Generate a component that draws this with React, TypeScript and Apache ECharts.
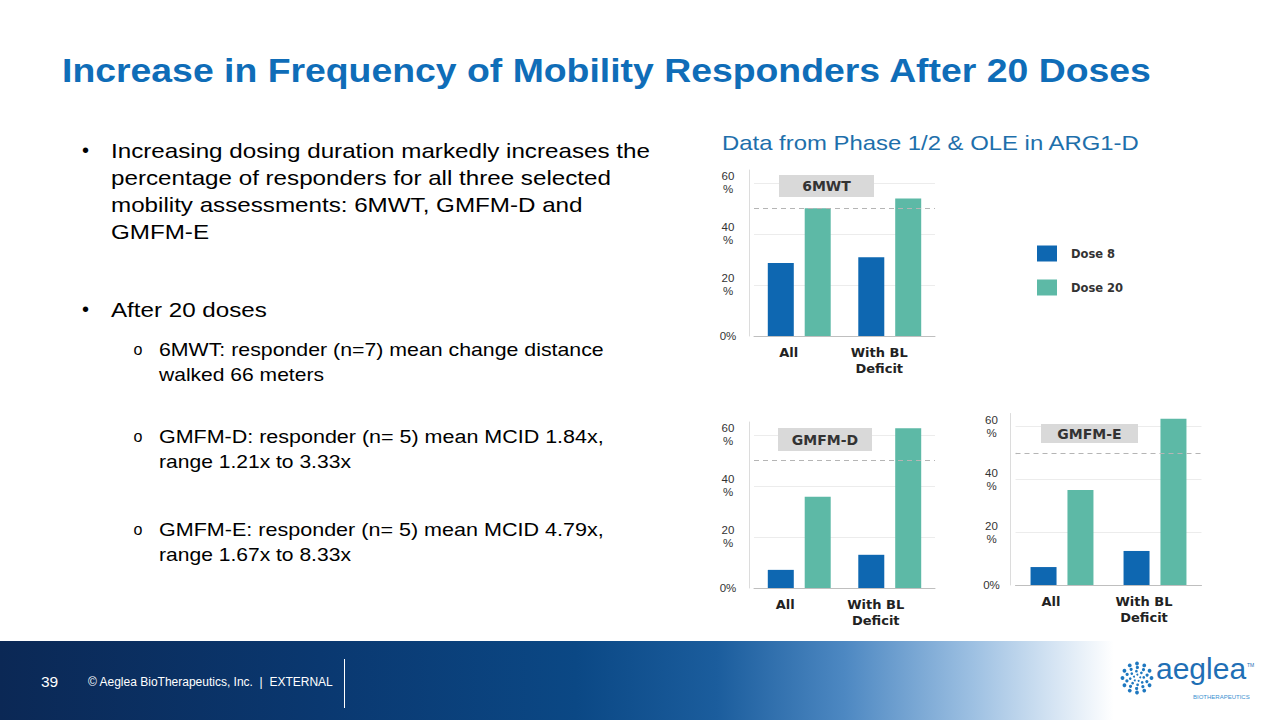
import React, { useEffect, useRef } from 'react';
import * as echarts from 'echarts';

// ---------- data ----------
const categories = ['All', 'With BL\nDeficit'];
const seriesNames = ['Dose 8', 'Dose 20'];
const panelTitles = ['6MWT', 'GMFM-D', 'GMFM-E'];
const dose8_6mwt = [28.6, 30.8];
const dose20_6mwt = [50, 53.8];
const dose8_gmfmD = [7.1, 13];
const dose20_gmfmD = [35.7, 62.6];
const dose8_gmfmE = [6.8, 12.9];
const dose20_gmfmE = [36, 63];
const thresholdLine = 50;
const yMax = 65;
const yInterval = 20;

const titleText = 'Increase in Frequency of Mobility Responders After 20 Doses';
const subtitleText = 'Data from Phase 1/2 & OLE in ARG1-D';
const bulletLines1 = [
  'Increasing dosing duration markedly increases the',
  'percentage of responders for all three selected',
  'mobility assessments: 6MWT, GMFM-D and',
  'GMFM-E',
];
const bulletLine2 = 'After 20 doses';
const subBullets = [
  ['6MWT: responder (n=7) mean change distance', 'walked 66 meters'],
  ['GMFM-D: responder (n= 5) mean MCID 1.84x,', 'range 1.21x to 3.33x'],
  ['GMFM-E: responder (n= 5) mean MCID 4.79x,', 'range 1.67x to 8.33x'],
];
const footerPage = '39';
const footerText = '\u00A9 Aeglea BioTherapeutics, Inc.  |  EXTERNAL';

// ---------- styling ----------
const BLUE = '#0e67b1';
const TEAL = '#5db9a6';
const SANS = '"Liberation Sans", Arial, sans-serif';
const LBL = '"DejaVu Sans", sans-serif';

const panels = [
  { d8: dose8_6mwt, d20: dose20_6mwt, grid: { left: 754, top: 170, width: 181, height: 166 }, pad: 21, ym: 21, box: [779, 175, 95, 22] },
  { d8: dose8_gmfmD, d20: dose20_gmfmD, grid: { left: 754, top: 422, width: 181, height: 166 }, pad: 28, ym: 21, box: [778, 428, 94, 23] },
  { d8: dose8_gmfmE, d20: dose20_gmfmE, grid: { left: 1015.5, top: 413.5, width: 186, height: 171.5 }, pad: 22, ym: 19, box: [1041, 424, 97, 19] },
];

let measureCtx: CanvasRenderingContext2D | null = null;
function measure(text: string, font: string): number {
  if (!measureCtx) measureCtx = document.createElement('canvas').getContext('2d');
  if (!measureCtx) return 0;
  measureCtx.font = font;
  return measureCtx.measureText(text).width;
}

function buildOption(): any {
  const grids = panels.map((p) => ({ ...p.grid }));
  const xAxes = panels.map((p, i) => ({
    type: 'category',
    gridIndex: i,
    data: categories,
    axisLine: { show: true, lineStyle: { color: '#bfbfbf', width: 1 } },
    axisTick: { show: false },
    axisLabel: {
      fontFamily: LBL,
      fontWeight: 'bold',
      fontSize: 13,
      color: '#222',
      lineHeight: 16,
      margin: 8,
      padding: [0, p.pad, 0, 0],
    },
  }));
  const yAxes = panels.map((p, i) => ({
    type: 'value',
    gridIndex: i,
    min: 0,
    max: yMax,
    interval: yInterval,
    offset: 5,
    axisLine: { show: true, lineStyle: { color: '#dcdcdc', width: 1 } },
    axisTick: { show: false },
    splitLine: { show: true, showMaxLine: false, lineStyle: { color: '#ececec', width: 1 } },
    axisLabel: {
      showMaxLabel: false,
      fontFamily: SANS,
      fontSize: 11.5,
      lineHeight: 13,
      color: '#333',
      align: 'center',
      margin: p.ym,
      formatter: (v: number) => (v === 0 ? '0%' : v % yInterval === 0 ? v + '\n%' : ''),
    },
  }));
  const series: any[] = [];
  panels.forEach((p, i) => {
    series.push({
      type: 'bar',
      name: seriesNames[0],
      xAxisIndex: i,
      yAxisIndex: i,
      data: p.d8,
      barWidth: 26,
      barGap: '42%',
      itemStyle: { color: BLUE },
    });
    series.push({
      type: 'bar',
      name: seriesNames[1],
      xAxisIndex: i,
      yAxisIndex: i,
      data: p.d20,
      barWidth: 26,
      barGap: '42%',
      itemStyle: { color: TEAL },
      markLine: {
        silent: true,
        symbol: 'none',
        label: { show: false },
        lineStyle: { type: [5, 4], color: '#b5b5b5', width: 1.2 },
        data: [{ yAxis: thresholdLine }],
      },
    });
  });

  const graphics: any[] = [];
  // title
  graphics.push({
    type: 'text', x: 62, y: 70, scaleX: 1.15,
    style: { text: titleText, font: `bold 32.5px ${SANS}`, fill: '#0f6db8', verticalAlign: 'middle' },
  });
  graphics.push({
    type: 'text', x: 722, y: 143, scaleX: 1.195,
    style: { text: subtitleText, font: `20px ${SANS}`, fill: '#1e6fab', verticalAlign: 'middle' },
  });
  // bullets
  const mainFont = `20.5px ${SANS}`;
  const y1 = [150.7, 177.7, 204.7, 231.7];
  graphics.push({ type: 'text', x: 85.5, y: 150, style: { text: '\u2022', font: `20px ${SANS}`, fill: '#000', align: 'center', verticalAlign: 'middle' } });
  bulletLines1.forEach((t, k) => {
    graphics.push({ type: 'text', x: 111, y: y1[k], scaleX: 1.18, style: { text: t, font: mainFont, fill: '#000', verticalAlign: 'middle' } });
  });
  graphics.push({ type: 'text', x: 85.5, y: 309, style: { text: '\u2022', font: `20px ${SANS}`, fill: '#000', align: 'center', verticalAlign: 'middle' } });
  graphics.push({ type: 'text', x: 111, y: 310, scaleX: 1.18, style: { text: bulletLine2, font: mainFont, fill: '#000', verticalAlign: 'middle' } });
  const subFont = `18px ${SANS}`;
  const subY = [[350, 375], [437, 462], [530, 555]];
  const justifyWidth = 604 - 159;
  subBullets.forEach((lines, k) => {
    graphics.push({ type: 'text', x: 138, y: subY[k][0] - 1, style: { text: 'o', font: `16px ${SANS}`, fill: '#000', align: 'center', verticalAlign: 'middle' } });
    lines.forEach((t, j) => {
      let sx = 1.17;
      if (j === 0) {
        const w = measure(t, subFont);
        if (w > 0) sx = justifyWidth / w;
      }
      graphics.push({ type: 'text', x: 159, y: subY[k][j], scaleX: sx, style: { text: t, font: subFont, fill: '#000', verticalAlign: 'middle' } });
    });
  });
  // panel title boxes
  panels.forEach((p, i) => {
    const [bx, by, bw, bh] = p.box;
    graphics.push({ type: 'rect', shape: { x: bx, y: by, width: bw, height: bh }, style: { fill: '#d9d9d9' }, z: 50 });
    graphics.push({
      type: 'text', x: bx + bw / 2, y: by + bh / 2, z: 51,
      style: { text: panelTitles[i], font: `bold 14px ${LBL}`, fill: '#333', align: 'center', verticalAlign: 'middle' },
    });
  });
  // footer band
  graphics.push({
    type: 'rect', shape: { x: 0, y: 641, width: 1280, height: 79 }, z: 1,
    style: {
      fill: new echarts.graphic.LinearGradient(0, 0, 1, 0, [
        { offset: 0, color: '#0b2855' },
        { offset: 0.25, color: '#0a3870' },
        { offset: 0.45, color: '#0b4885' },
        { offset: 0.56, color: '#1b5d9d' },
        { offset: 0.66, color: '#4d88c2' },
        { offset: 0.76, color: '#9dc0e2' },
        { offset: 0.83, color: '#dbe8f5' },
        { offset: 0.87, color: '#ffffff' },
        { offset: 1, color: '#ffffff' },
      ]),
    },
  });
  graphics.push({ type: 'text', x: 41, y: 681, z: 2, style: { text: footerPage, font: `15.5px ${SANS}`, fill: '#fff', verticalAlign: 'middle' } });
  graphics.push({ type: 'text', x: 88, y: 682, z: 2, style: { text: footerText, font: `12px ${SANS}`, fill: '#fff', verticalAlign: 'middle' } });
  graphics.push({ type: 'line', z: 2, shape: { x1: 344.5, y1: 659, x2: 344.5, y2: 708 }, style: { stroke: '#fff', lineWidth: 1 } });
  // logo
  const cx = 1137, cy = 678;
  const rings = [
    { r: 14.5, n: 12, s: 1.9, off: 0 },
    { r: 10.5, n: 10, s: 1.6, off: 0.35 },
    { r: 6.8, n: 8, s: 1.35, off: 0.7 },
    { r: 3.3, n: 5, s: 1.0, off: 1.05 },
  ];
  rings.forEach((rg) => {
    for (let k = 0; k < rg.n; k++) {
      const a = (k / rg.n) * Math.PI * 2 + rg.off;
      graphics.push({ type: 'circle', z: 3, shape: { cx: cx + rg.r * Math.cos(a), cy: cy + rg.r * Math.sin(a), r: rg.s }, style: { fill: '#1f78c0' } });
    }
  });
  graphics.push({ type: 'text', x: 1156, y: 683, z: 3, style: { text: 'aeglea', font: `30px ${SANS}`, fill: '#1f6fb5', verticalAlign: 'bottom' } });
  graphics.push({ type: 'text', x: 1247, y: 665, z: 3, style: { text: 'TM', font: `5px ${SANS}`, fill: '#1f6fb5', verticalAlign: 'middle' } });
  graphics.push({ type: 'text', x: 1193, y: 697, z: 3, style: { text: 'BIOTHERAPEUTICS', font: `6px ${SANS}`, fill: '#3a90d0', verticalAlign: 'middle' } });

  return {
    animation: false,
    backgroundColor: '#ffffff',
    grid: grids,
    xAxis: xAxes,
    yAxis: yAxes,
    series,
    legend: {
      data: seriesNames,
      orient: 'vertical',
      left: 1037,
      top: 245.5,
      padding: 0,
      itemWidth: 20,
      itemHeight: 16,
      itemGap: 18,
      icon: 'rect',
      selectedMode: false,
      textStyle: { fontFamily: LBL, fontWeight: 'bold', fontSize: 11.5, color: '#333', padding: [0, 0, 0, 9] },
    },
    graphic: graphics,
  };
}

export default function App() {
  const ref = useRef<HTMLDivElement>(null);
  useEffect(() => {
    document.body.style.margin = '0';
    const chart = echarts.init(ref.current!, null, { renderer: 'svg' });
    chart.setOption(buildOption());
    return () => chart.dispose();
  }, []);
  return (
    <div
      ref={ref}
      style={{ position: 'absolute', left: 0, top: 0, width: 1280, height: 720, background: '#fff' }}
    />
  );
}
